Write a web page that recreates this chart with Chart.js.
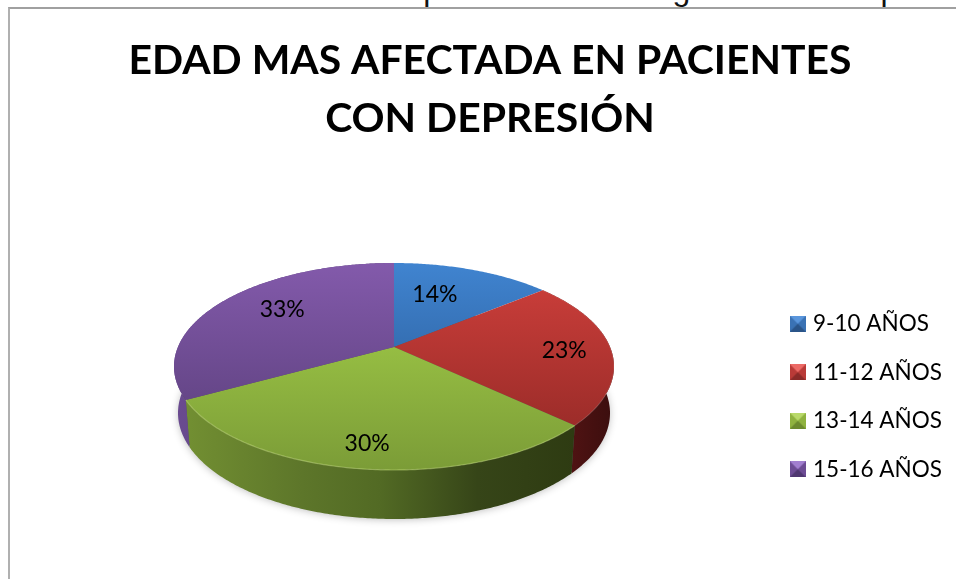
<!DOCTYPE html>
<html><head><meta charset="utf-8">
<script src="https://cdn.jsdelivr.net/npm/chart.js@4"></script>
<style>
html,body{margin:0;padding:0;width:956px;height:579px;overflow:hidden;background:#fff}
#frame{position:absolute;left:8px;top:7px;width:990px;height:640px;border-top:2px solid #a0a0a0;border-left:2px solid #b0b0b0;box-sizing:border-box}
#wrap{position:absolute;left:0;top:0;width:952px;height:579px}
#above{position:absolute;left:48px;top:-29px;font:32px "Liberation Sans",sans-serif;white-space:nowrap;color:#111}
</style></head><body>
<div id="above">edad mas afectada en los pacientes con diagnostico de depresión</div>
<div id="frame"></div>
<div id="wrap"><canvas id="c" width="952" height="579"></canvas></div>
<script>
const categories = ['9-10 AÑOS','11-12 AÑOS','13-14 AÑOS','15-16 AÑOS'];
const values = [14,23,30,33];
const titleLines = ['EDAD MAS AFECTADA EN PACIENTES','CON DEPRESIÓN'];
const topColors = ['#4084d0','#d0403c','#a8d44b','#835aab'];
const bottomColors = ['#245088','#8e2724','#7b9c37','#563c76'];
const legendColors = ['#3a72b4','#b93a37','#8fb23f','#6d4c94'];
const labelRadius = [0.65,0.78,0.81,0.65];
const labelNudgeX = [-13,1,-1,2];
const labelNudgeY = [0,1,2,-6];

const TOP = {cx:394, cy:366.5, rx:220, ry:103.5};
const BASE = {cx:394, cy:413, rx:216, ry:106};
const APEX = -0.188;
const LEGEND_SHIFT = 107;

function project(theta, r, e){
  const u = r*Math.sin(theta), v = -r*Math.cos(theta);
  const d = 1 + APEX*v;
  return {x:e.cx + e.rx*u*Math.sqrt(1-APEX*APEX)/d, y:e.cy + e.ry*(v+APEX)/d};
}
function apex(){return {x:TOP.cx, y:TOP.cy + TOP.ry*APEX};}
function rim(a0,a1,e,step=0.01){
  const pts=[];const n=Math.max(2,Math.ceil((a1-a0)/step));
  for(let i=0;i<=n;i++) pts.push(project(a0+(a1-a0)*i/n,1,e));
  return pts;
}
function trace(ctx,pts,move){pts.forEach((p,i)=>{(i===0&&move)?ctx.moveTo(p.x,p.y):ctx.lineTo(p.x,p.y);});}

function bevel(color,light,dark){
  const c=document.createElement('canvas');c.width=16;c.height=16;
  const g=c.getContext('2d');
  g.fillStyle=color;g.fillRect(0,0,16,16);
  g.fillStyle=light;g.beginPath();g.moveTo(0,0);g.lineTo(16,0);g.lineTo(8,8);g.closePath();g.fill();
  g.fillStyle=dark;g.beginPath();g.moveTo(0,16);g.lineTo(16,16);g.lineTo(8,8);g.closePath();g.fill();
  return c;
}
const icons=[bevel('#3a72b4','#5a96dc','#2a5488'),bevel('#b93a37','#ec6a66','#8a2a28'),bevel('#8fb23f','#b9d96a','#6c8a2e'),bevel('#6d4c94','#a27fd0','#4f3770')];

const pie3d={
  id:'pie3d',
  afterLayout(chart){
    chart.titleBlock.left+=14; chart.titleBlock.right+=14;
    chart.legend.top+=LEGEND_SHIFT; chart.legend.bottom+=LEGEND_SHIFT;
  },
  beforeDatasetDraw(chart,args){
    const ctx=chart.ctx, arcs=chart.getDatasetMeta(0).data;
    const slices=arcs.map((a,i)=>({i,a0:a.startAngle+Math.PI/2,a1:a.endAngle+Math.PI/2}));
    ctx.save();
    ctx.shadowColor='rgba(0,0,0,0.3)';ctx.shadowBlur=8;ctx.shadowOffsetY=1;
    ctx.fillStyle='#555';
    ctx.beginPath();ctx.ellipse(BASE.cx,BASE.cy,BASE.rx-1,BASE.ry-1,0,0,Math.PI*2);ctx.fill();
    ctx.restore();
    const wallStops=[
      null,
      [[0,'#5e1616'],[1,'#3b0e0e']],
      [[0,'#728f32'],[0.3,'#5d762a'],[0.5,'#526a24'],[0.75,'#364518'],[1,'#2e3b12']],
      [[0,'#6a4b90'],[1,'#4f3770']]
    ];
    slices.forEach(s=>{
      if(!wallStops[s.i]) return;
      const tp=rim(s.a0,s.a1,TOP), bp=rim(s.a0,s.a1,BASE);
      const xs=tp.concat(bp).map(p=>p.x);
      const x0=Math.min(...xs), x1=Math.max(...xs);
      const g=ctx.createLinearGradient(x0,0,x1,0);
      wallStops[s.i].forEach(st=>g.addColorStop(st[0],st[1]));
      ctx.fillStyle=g;ctx.beginPath();
      trace(ctx,tp,true);trace(ctx,bp.reverse(),false);ctx.closePath();ctx.fill();
    });
    const A=apex();
    slices.forEach(s=>{
      const g=ctx.createLinearGradient(0,TOP.cy-TOP.ry,0,TOP.cy+TOP.ry);
      g.addColorStop(0,topColors[s.i]);g.addColorStop(1,bottomColors[s.i]);
      ctx.fillStyle=g;ctx.beginPath();ctx.moveTo(A.x,A.y);
      trace(ctx,rim(s.a0,s.a1,TOP),false);ctx.closePath();ctx.fill();
    });
    ctx.save();ctx.lineWidth=1.2;ctx.strokeStyle='rgba(205,230,130,0.45)';
    ctx.beginPath();trace(ctx,rim(slices[2].a0,slices[2].a1,TOP),true);ctx.stroke();
    ctx.strokeStyle='rgba(255,255,255,0.12)';
    ctx.beginPath();trace(ctx,rim(slices[1].a0,slices[1].a1,TOP),true);ctx.stroke();
    ctx.restore();
    return false;
  },
  afterDatasetsDraw(chart){
    const ctx=chart.ctx, arcs=chart.getDatasetMeta(0).data;
    ctx.save();
    ctx.font='23px Lato';ctx.fillStyle='#000';ctx.textAlign='center';ctx.textBaseline='middle';
    arcs.forEach((a,i)=>{
      const mid=(a.startAngle+a.endAngle)/2+Math.PI/2;
      const p=project(mid,labelRadius[i],TOP);
      ctx.fillText(values[i]+'%',p.x+labelNudgeX[i],p.y+labelNudgeY[i]);
    });
    ctx.restore();
  }
};

new Chart(document.getElementById('c'),{
  type:'pie',
  data:{labels:categories,datasets:[{data:values,backgroundColor:legendColors,borderWidth:0}]},
  options:{
    responsive:false,animation:false,
    plugins:{
      title:{display:true,text:titleLines,font:{family:'Lato',size:40.9,weight:'bold',lineHeight:1.418},color:'#000',padding:{top:32,bottom:14}},
      legend:{position:'right',labels:{
        font:{family:'Lato',size:22.5},color:'#000',padding:26,boxWidth:8,boxHeight:16,usePointStyle:true,
        generateLabels(chart){return categories.map((t,i)=>({text:t,pointStyle:icons[i],fillStyle:legendColors[i],strokeStyle:legendColors[i],lineWidth:0,index:i,hidden:false}));}
      }},
      tooltip:{enabled:false}
    }
  },
  plugins:[pie3d]
});
</script></body></html>
